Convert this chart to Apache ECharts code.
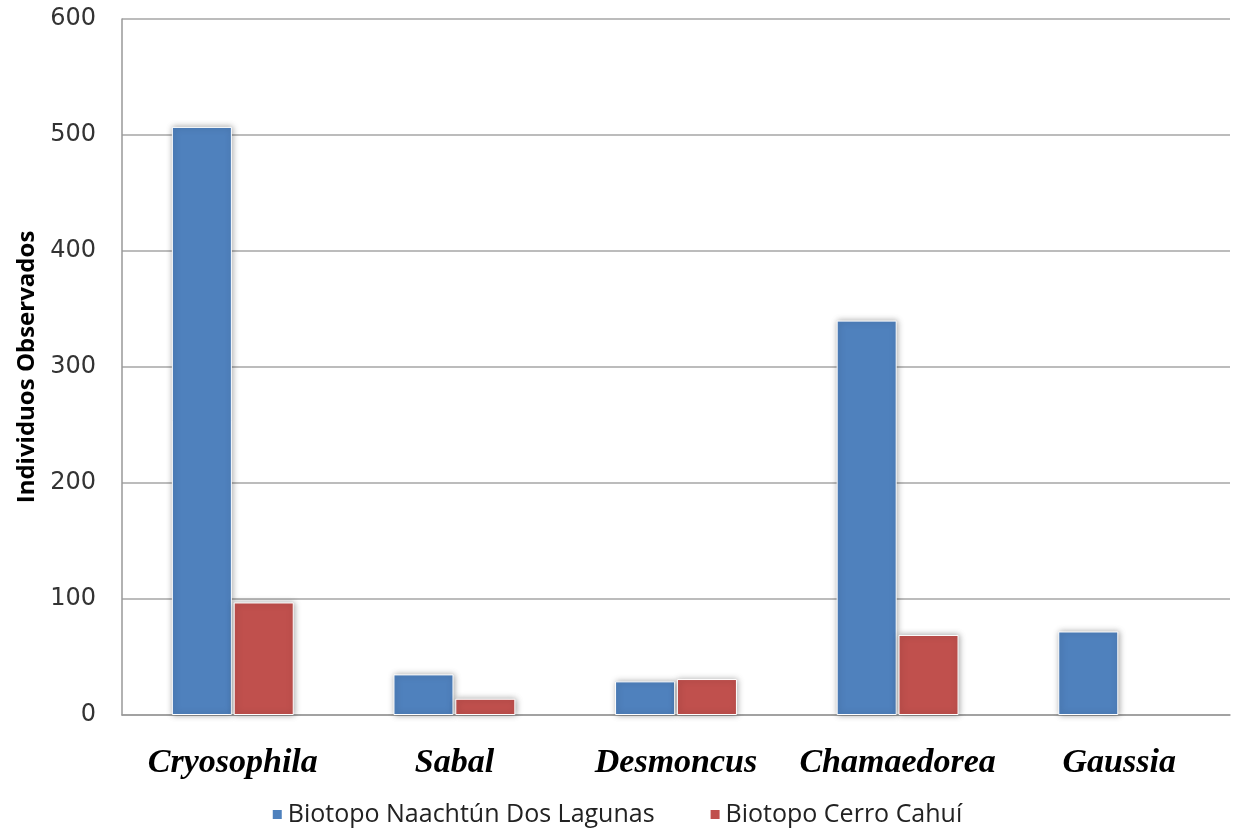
<!DOCTYPE html>
<html>
<head>
<meta charset="utf-8">
<script src="https://cdn.jsdelivr.net/npm/echarts@6/dist/echarts.min.js"></script>
<style>
  html, body { margin: 0; padding: 0; background: #fff; }
  #chart { width: 1233px; height: 833px; }
</style>
</head>
<body>
<div id="chart"></div>
<script>
// Palm genera observed in each biotope
const categories = ['Cryosophila', 'Sabal', 'Desmoncus', 'Chamaedorea', 'Gaussia'];
const naachtun = [507, 35, 29, 340, 72];
const cerroCahui = [97, 14, 31, 69, 0];
const seriesNames = ['Biotopo Naachtún Dos Lagunas', 'Biotopo Cerro Cahuí'];
const yTicks = { min: 0, max: 600, interval: 100 };

const chart = echarts.init(document.getElementById('chart'));

const barStyle = (color) => ({
  color: color,
  borderColor: '#ffffff',
  borderWidth: 1,
  shadowColor: 'rgba(0,0,0,0.35)',
  shadowBlur: 6,
  shadowOffsetX: 1,
  shadowOffsetY: 0
});

// zero-height bars get no shadow so nothing shows for them
const toItems = (values) => values.map(v => v === 0
  ? { value: v, itemStyle: { shadowBlur: 0, borderWidth: 0 } }
  : v);

chart.setOption({
  animation: false,
  backgroundColor: '#ffffff',
  grid: { left: 122, right: 3, top: 19, bottom: 118, containLabel: false, outerBoundsMode: 'none' },
  legend: {
    bottom: 1,
    left: 'center',
    itemWidth: 11,
    itemHeight: 11,
    itemGap: 54,
    icon: 'rect',
    textStyle: { fontFamily: 'Open Sans', fontSize: 25, color: '#222' },
    data: seriesNames
  },
  xAxis: {
    type: 'category',
    data: categories,
    axisLine: { show: true, lineStyle: { color: '#999', width: 1.5 } },
    axisTick: { show: false },
    axisLabel: {
      interval: 0,
      margin: 31,
      fontFamily: 'Liberation Serif',
      fontStyle: 'italic',
      fontWeight: 'bold',
      fontSize: 34,
      color: '#000'
    }
  },
  yAxis: {
    type: 'value',
    min: yTicks.min,
    max: yTicks.max,
    interval: yTicks.interval,
    name: 'Individuos Observados',
    nameLocation: 'middle',
    nameGap: 81,
    nameTextStyle: { fontFamily: 'Open Sans', fontWeight: 'bold', fontSize: 24, color: '#000' },
    axisLine: { show: true, lineStyle: { color: '#999', width: 1.5 } },
    axisTick: { show: false },
    axisLabel: { margin: 26, fontFamily: 'DejaVu Sans', fontSize: 24, color: '#333' },
    splitLine: { lineStyle: { color: '#a6a6a6', width: 1.5 } }
  },
  series: [
    {
      name: seriesNames[0],
      type: 'bar',
      data: toItems(naachtun),
      barCategoryGap: '45%',
      barGap: '3%',
      itemStyle: barStyle('#4F81BD')
    },
    {
      name: seriesNames[1],
      type: 'bar',
      data: toItems(cerroCahui),
      itemStyle: barStyle('#C0504D')
    }
  ]
});
</script>
</body>
</html>
